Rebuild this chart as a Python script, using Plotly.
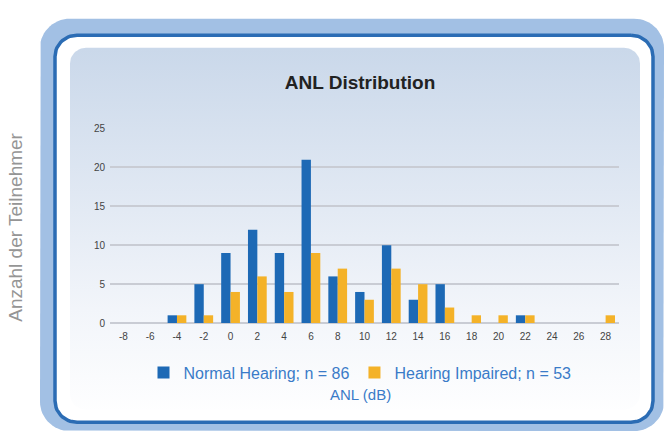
import numpy as np
import plotly.graph_objects as go

# ---- data ----
anl_ticks = ["-8", "-6", "-4", "-2", "0", "2", "4", "6", "8", "10", "12", "14",
             "16", "18", "20", "22", "24", "26", "28"]
normal_hearing = [0, 0, 1, 5, 9, 12, 9, 21, 6, 4, 10, 3, 5, 0, 0, 1, 0, 0, 0]
hearing_impaired = [0, 0, 1, 1, 4, 6, 4, 9, 7, 3, 7, 5, 2, 1, 1, 1, 0, 0, 1]
series_names = ["Normal Hearing; n = 86", "Hearing Impaired; n = 53"]
y_ticks = [0, 5, 10, 15, 20, 25]

W, H = 666, 439
BLUE = "#1d69b5"
ORANGE = "#f4b228"


def rrect(x0, y0, x1, y1, r, n=16):
    xs, ys = [], []
    corners = [(x1 - r, y0 + r, -90, 0), (x1 - r, y1 - r, 0, 90),
               (x0 + r, y1 - r, 90, 180), (x0 + r, y0 + r, 180, 270)]
    for cx, cy, a0, a1 in corners:
        t = np.radians(np.linspace(a0, a1, n))
        xs += list(cx + r * np.cos(t))
        ys += list(cy + r * np.sin(t))
    xs.append(xs[0]); ys.append(ys[0])
    return xs, ys


fig = go.Figure()

# frame layers (pixel coordinates on full-page axes)
x, y = rrect(40, 13, 664, 437, 30)
fig.add_trace(go.Scatter(x=x, y=y, fill="toself", fillcolor="#a2c0e4", mode="lines",
                         line=dict(width=0), hoverinfo="skip", showlegend=False,
                         xaxis="x", yaxis="y"))
x, y = rrect(55, 30, 653, 428, 22)
fig.add_trace(go.Scatter(x=x, y=y, fill="toself", fillcolor="#ffffff", mode="lines",
                         line=dict(width=3.5, color="#2b6cb4"), hoverinfo="skip",
                         showlegend=False, xaxis="x", yaxis="y"))
x, y = rrect(70, 43, 640, 415, 16)
fig.add_trace(go.Scatter(x=x, y=y, fill="toself", mode="lines",
                         fillgradient=dict(type="vertical",
                                           colorscale=[[0, "#ffffff"], [0.3, "#f2f5fa"], [1, "#cad8ea"]],
                                           start=415, stop=43),
                         line=dict(width=0), hoverinfo="skip", showlegend=False,
                         xaxis="x", yaxis="y"))

# data
fig.add_trace(go.Bar(x=anl_ticks, y=normal_hearing, name=series_names[0],
                     marker=dict(color=BLUE, line=dict(width=0)), xaxis="x2", yaxis="y2"))
fig.add_trace(go.Bar(x=anl_ticks, y=hearing_impaired, name=series_names[1],
                     marker=dict(color=ORANGE, line=dict(width=0)), xaxis="x2", yaxis="y2"))

fig.update_layout(
    width=W, height=H,
    margin=dict(l=0, r=0, t=0, b=0),
    paper_bgcolor="white", plot_bgcolor="rgba(0,0,0,0)",
    font=dict(family="Liberation Sans, Arial, sans-serif"),
    barmode="group", bargap=0.3, bargroupgap=0,
    xaxis=dict(domain=[0, 1], range=[0, W], visible=False, fixedrange=True),
    yaxis=dict(domain=[0, 1], range=[H, 0], visible=False, fixedrange=True),
    xaxis2=dict(domain=[110 / W, 619 / W], anchor="y2", type="category",
                categoryorder="array", categoryarray=anl_ticks,
                showgrid=False, showline=False, zeroline=False, ticks="",
                tickfont=dict(size=10, color="#444444"), ticklabelstandoff=6),
    yaxis2=dict(domain=[(H - 326) / H, (H - 126) / H], anchor="x2", range=[0, 25],
                tickvals=y_ticks, showgrid=True, gridcolor="#c9ccd4", gridwidth=1.5,
                zeroline=True, zerolinecolor="#c9ccd4", zerolinewidth=1.5,
                showline=False, ticks="",
                tickfont=dict(size=10, color="#444444"), ticklabelstandoff=4),
    title=dict(text="<b>ANL Distribution</b>", x=360 / W, y=1 - 82 / H,
               xanchor="center", yanchor="middle",
               font=dict(size=19, color="#222222")),
    legend=dict(orientation="h", x=360 / W, xanchor="center", y=1 - 377 / H,
                yanchor="middle", font=dict(size=16, color="#3a7bc8"),
                bgcolor="rgba(0,0,0,0)"),
    annotations=[
        dict(text="ANL (dB)", x=360 / W, y=1 - 399 / H, xref="paper", yref="paper",
             showarrow=False, xanchor="center", yanchor="middle",
             font=dict(size=15, color="#3a7bc8")),
        dict(text="Anzahl der Teilnehmer", x=16 / W, y=1 - 228 / H, xref="paper",
             yref="paper", showarrow=False, textangle=-90, xanchor="center",
             yanchor="middle", font=dict(size=19, color="#959595")),
    ],
)

fig.write_html("out.html", config={"displayModeBar": False},
               post_script="document.body.style.margin='0px';")
